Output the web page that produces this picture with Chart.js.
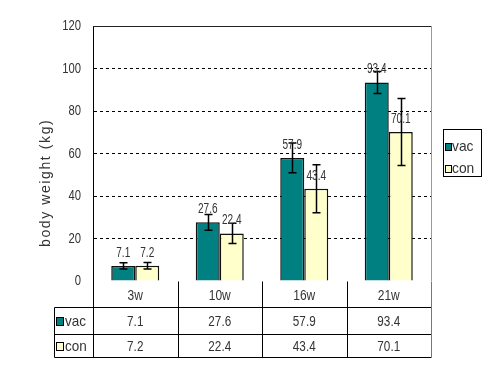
<!DOCTYPE html>
<html>
<head>
<meta charset="utf-8">
<script src="https://cdn.jsdelivr.net/npm/chart.js@4/dist/chart.umd.min.js"></script>
<style>
html,body{margin:0;padding:0;background:#fff;}
canvas{display:block;}
</style>
</head>
<body>
<canvas id="c" width="500" height="379"></canvas>
<script>
const categories = ['3w', '10w', '16w', '21w'];
const seriesNames = ['vac', 'con'];
const vacValues = [7.1, 27.6, 57.9, 93.4];
const conValues = [7.2, 22.4, 43.4, 70.1];
const vacErr = [1.5, 3.7, 7.0, 5.2];
const conErr = [1.5, 4.8, 11.3, 15.8];
const yTicks = [0, 20, 40, 60, 80, 100, 120];
const yTitle = 'body weight (kg)';

const FONT = '"Liberation Sans", Arial, sans-serif';
const TXT = '#333';
const colors = ['#008080', '#FFFFCC'];
const errs = [vacErr, conErr];
const vals = [vacValues, conValues];

// draw horizontally condensed text
function ctext(ctx, str, x, y, size, sx, align) {
  ctx.save();
  ctx.font = size + 'px ' + FONT;
  ctx.textBaseline = 'middle';
  ctx.textAlign = align || 'center';
  ctx.translate(x, y);
  ctx.scale(sx, 1);
  ctx.fillText(str, 0, 0);
  ctx.restore();
}

const extras = {
  id: 'extras',
  afterDatasetsDraw(chart) {
    const ctx = chart.ctx;
    const a = chart.chartArea;
    const y = chart.scales.y;
    const x = chart.scales.x;
    ctx.save();
    // frame top and right
    ctx.lineWidth = 1;
    ctx.strokeStyle = '#222';
    ctx.beginPath();
    ctx.moveTo(a.left, Math.round(a.top) + 0.5);
    ctx.lineTo(a.right, Math.round(a.top) + 0.5);
    ctx.stroke();
    ctx.strokeStyle = '#999';
    ctx.beginPath();
    ctx.moveTo(Math.round(a.right) + 0.5, a.top);
    ctx.lineTo(Math.round(a.right) + 0.5, a.bottom);
    ctx.stroke();

    // y tick labels
    ctx.fillStyle = TXT;
    yTicks.forEach(v => {
      ctext(ctx, String(v), 81, y.getPixelForValue(v), 15, 0.75, 'right');
    });

    // error bars
    ctx.strokeStyle = '#000';
    ctx.lineWidth = 1.5;
    chart.data.datasets.forEach((ds, di) => {
      const meta = chart.getDatasetMeta(di);
      meta.data.forEach((bar, i) => {
        const v = vals[di][i], e = errs[di][i];
        const yt = y.getPixelForValue(v + e);
        const yb = y.getPixelForValue(v - e);
        const bx = Math.round(bar.x) + 0.5;
        ctx.beginPath();
        ctx.moveTo(bx, yt); ctx.lineTo(bx, yb);
        ctx.moveTo(bx - 4, yt); ctx.lineTo(bx + 4, yt);
        ctx.moveTo(bx - 4, yb); ctx.lineTo(bx + 4, yb);
        ctx.stroke();
      });
    });

    // data labels
    ctx.fillStyle = TXT;
    chart.data.datasets.forEach((ds, di) => {
      const meta = chart.getDatasetMeta(di);
      meta.data.forEach((bar, i) => {
        ctext(ctx, String(vals[di][i]), bar.x, bar.y - 13, 14, 0.72, 'center');
      });
    });

    // y title
    ctx.save();
    ctx.translate(46, 247);
    ctx.rotate(-Math.PI / 2);
    ctx.font = '14px ' + FONT;
    if ('letterSpacing' in ctx) ctx.letterSpacing = '1.6px';
    ctx.textAlign = 'left';
    ctx.textBaseline = 'middle';
    ctx.fillStyle = TXT;
    ctx.fillText(yTitle, 0, 0);
    ctx.restore();

    // data table
    const tl = 54.5;
    const left = Math.round(a.left) + 0.5;
    const right = Math.round(a.right) + 0.5;
    const r0 = Math.round(a.bottom) + 0.5;
    const r1 = 307.5, r2 = 334.5, r3 = 357.5;
    ctx.strokeStyle = '#000';
    ctx.lineWidth = 1;
    ctx.beginPath();
    ctx.moveTo(tl, r1); ctx.lineTo(right, r1);
    ctx.moveTo(tl, r2); ctx.lineTo(right, r2);
    ctx.moveTo(tl, r3); ctx.lineTo(right, r3);
    ctx.moveTo(tl, r1); ctx.lineTo(tl, r3);
    ctx.moveTo(left, r0); ctx.lineTo(left, r3);
    const n = categories.length;
    const cw = (a.right - a.left) / n;
    for (let i = 1; i < n; i++) {
      const xx = Math.round(a.left + cw * i) + 0.5;
      ctx.moveTo(xx, r0); ctx.lineTo(xx, r3);
    }
    ctx.stroke();
    ctx.strokeStyle = '#777';
    ctx.beginPath();
    ctx.moveTo(right, r0); ctx.lineTo(right, r3);
    ctx.stroke();

    ctx.fillStyle = TXT;
    for (let i = 0; i < n; i++) {
      const cx = x.getPixelForValue(i);
      ctext(ctx, categories[i], cx, (r0 + r1) / 2 + 1, 15, 0.8, 'center');
      ctext(ctx, String(vacValues[i]), cx, (r1 + r2) / 2 + 1, 15, 0.78, 'center');
      ctext(ctx, String(conValues[i]), cx, (r2 + r3) / 2 + 1, 15, 0.78, 'center');
    }
    // row headers
    const rowsY = [(r1 + r2) / 2, (r2 + r3) / 2];
    seriesNames.forEach((nm, si) => {
      const cy = Math.round(rowsY[si]);
      ctx.fillStyle = colors[si];
      ctx.fillRect(57, cy - 3, 6, 7);
      ctx.strokeStyle = '#000';
      ctx.lineWidth = 1;
      ctx.strokeRect(56.5, cy - 3.5, 7, 8);
      ctx.fillStyle = TXT;
      ctext(ctx, nm, 65, cy + 1, 15, 0.9, 'left');
    });

    // legend
    ctx.strokeStyle = '#000';
    ctx.lineWidth = 1;
    ctx.strokeRect(443.5, 129.5, 38, 47);
    const legY = [147, 169];
    seriesNames.forEach((nm, si) => {
      const cy = legY[si];
      ctx.fillStyle = colors[si];
      ctx.fillRect(446, cy - 3, 5, 6);
      ctx.strokeStyle = '#000';
      ctx.strokeRect(445.5, cy - 3.5, 6, 7);
      ctx.fillStyle = TXT;
      ctext(ctx, nm, 452, cy, 15, 0.92, 'left');
    });
    ctx.restore();
  }
};

new Chart(document.getElementById('c'), {
  type: 'bar',
  data: {
    labels: categories,
    datasets: [
      { label: seriesNames[0], data: vacValues, backgroundColor: colors[0], borderColor: '#111', borderWidth: 1.5, borderSkipped: 'bottom' },
      { label: seriesNames[1], data: conValues, backgroundColor: colors[1], borderColor: '#111', borderWidth: 1.5, borderSkipped: 'bottom' }
    ]
  },
  options: {
    responsive: false,
    animation: false,
    devicePixelRatio: 1,
    layout: { padding: { left: 0, top: 26, right: 69, bottom: 98 } },
    datasets: { bar: { categoryPercentage: 0.568, barPercentage: 1.0 } },
    plugins: { legend: { display: false }, tooltip: { enabled: false } },
    scales: {
      x: { display: false },
      y: {
        min: 0, max: 120,
        afterBuildTicks(scale) { scale.ticks = yTicks.map(v => ({ value: v })); },
        afterFit(scale) { scale.width = 93; },
        ticks: { display: false },
        grid: {
          drawTicks: false,
          color: c => (c.tick && c.tick.value > 0 && c.tick.value < 120) ? '#000' : 'rgba(0,0,0,0)',
          lineWidth: 1
        },
        border: { display: true, color: '#000', width: 1, dash: [3, 3] }
      }
    }
  },
  plugins: [extras]
});
</script>
</body>
</html>
